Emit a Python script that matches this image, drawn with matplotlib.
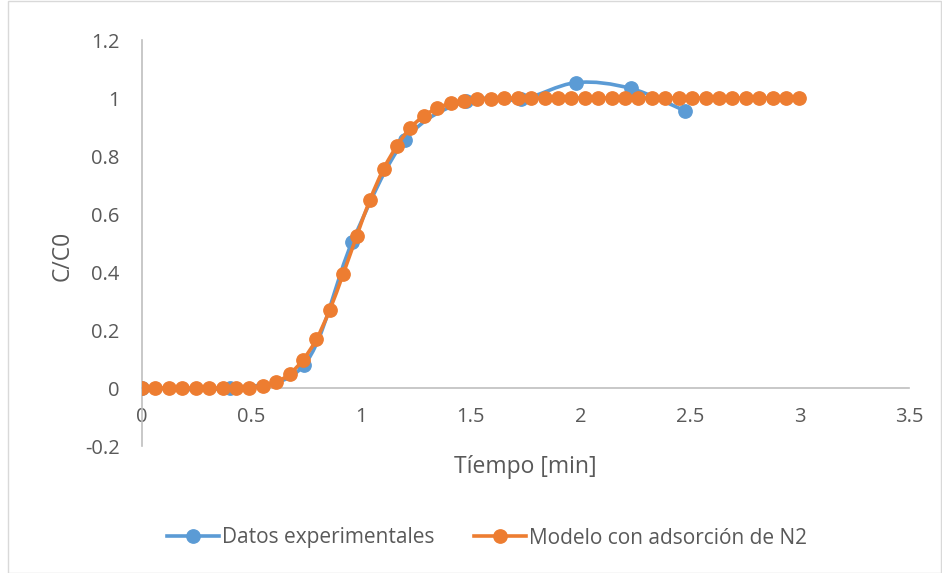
import numpy as np
import matplotlib
matplotlib.use("Agg")
import matplotlib.pyplot as plt
from matplotlib.path import Path
from matplotlib.patches import PathPatch, Rectangle
from matplotlib.lines import Line2D

# Experimental data
exp_t = [0.0, 0.40, 0.74, 0.96, 1.20, 1.48, 1.73, 1.98, 2.23, 2.48]
exp_c = [0.0, 0.0, 0.08, 0.505, 0.855, 0.99, 0.995, 1.053, 1.033, 0.955]

# Model (with N2 adsorption): 50 points from 0 to 3 min
model_t = list(np.linspace(0, 3, 50))
model_c = [0, 0, 0, 0, 0, 0, 0, 0, 0.001, 0.006, 0.02, 0.048, 0.097, 0.168, 0.270, 0.394,
           0.524, 0.650, 0.755, 0.835, 0.897, 0.938, 0.965, 0.982, 0.991, 0.996, 0.998, 0.999,
           1, 1, 1, 1, 1, 1, 1, 1, 1, 1, 1, 1, 1, 1, 1, 1, 1, 1, 1, 1, 1, 1]

xticks = [0, 0.5, 1, 1.5, 2, 2.5, 3, 3.5]
xticklabels = ["0", "0.5", "1", "1.5", "2", "2.5", "3", "3.5"]
yticks = [-0.2, 0, 0.2, 0.4, 0.6, 0.8, 1, 1.2]
yticklabels = ["-0.2", "0", "0.2", "0.4", "0.6", "0.8", "1", "1.2"]

BLUE = "#5B9BD5"
ORANGE = "#ED7D31"
TXT = "#595959"
AX = "#BFBFBF"

plt.rcParams['font.family'] = ['Open Sans', 'DejaVu Sans']

W, H = 942, 573
fig = plt.figure(figsize=(W / 100, H / 100), dpi=100)
ax = fig.add_axes([142 / W, 1 - 446 / H, (909 - 142) / W, (446 - 40) / H])
ax.set_xlim(0, 3.5)
ax.set_ylim(-0.2, 1.2)

def smooth_path(xs, ys, k=1 / 6):
    pts = np.column_stack([xs, ys])
    n = len(pts)
    verts = [pts[0]]
    codes = [Path.MOVETO]
    for i in range(n - 1):
        p0 = pts[i - 1] if i > 0 else pts[i]
        p1 = pts[i]
        p2 = pts[i + 1]
        p3 = pts[i + 2] if i + 2 < n else pts[i + 1]
        c1 = p1 + (p2 - p0) * k
        c2 = p2 - (p3 - p1) * k
        verts += [c1, c2, p2]
        codes += [Path.CURVE4] * 3
    return Path(verts, codes)

lw = 2.6
ms = 9.6
ax.add_patch(PathPatch(smooth_path(exp_t, exp_c), facecolor='none', edgecolor=BLUE,
                       lw=lw, capstyle='round', joinstyle='round', zorder=2))
ax.plot(exp_t, exp_c, 'o', color=BLUE, ms=ms, zorder=3)
ax.add_patch(PathPatch(smooth_path(model_t, model_c), facecolor='none', edgecolor=ORANGE,
                       lw=lw, capstyle='round', joinstyle='round', zorder=4))
ax.plot(model_t, model_c, 'o', color=ORANGE, ms=ms, zorder=5)

for s in ['top', 'right']:
    ax.spines[s].set_visible(False)
ax.spines['bottom'].set_position(('data', 0))
ax.spines['bottom'].set_color(AX)
ax.spines['left'].set_color(AX)
ax.spines['bottom'].set_linewidth(1.2)
ax.spines['left'].set_linewidth(1.2)
ax.set_xticks(xticks)
ax.set_xticklabels(xticklabels)
ax.set_yticks(yticks)
ax.set_yticklabels(yticklabels)
ax.tick_params(axis='both', length=0, colors=TXT, labelsize=14.5)
ax.tick_params(axis='x', pad=14)
ax.tick_params(axis='y', pad=16)

fig.text(63 / W, 1 - 256 / H, "C/C0", rotation=90, ha='center', va='center',
         color=TXT, fontsize=16.5)
fig.text(525 / W, 1 - 467 / H, "Tíempo [min]", ha='center', va='center',
         color=TXT, fontsize=16.5)

handles = [Line2D([], [], color=BLUE, lw=lw, marker='o', ms=ms),
           Line2D([], [], color=ORANGE, lw=lw, marker='o', ms=ms)]
fig.legend(handles, ["Datos experimentales", "Modelo con adsorción de N2"],
           loc='center', bbox_to_anchor=(487 / W, 1 - 538 / H), ncol=2, frameon=False,
           fontsize=15, labelcolor=TXT, handlelength=2.5, handletextpad=0.15,
           columnspacing=1.9)

fig.patches.append(Rectangle((8 / W, 0.5 / H), (W - 9) / W, (H - 1.5) / H,
                             transform=fig.transFigure, fill=False,
                             edgecolor="#D9D9D9", lw=1))

fig.savefig("out.png", dpi=100)
